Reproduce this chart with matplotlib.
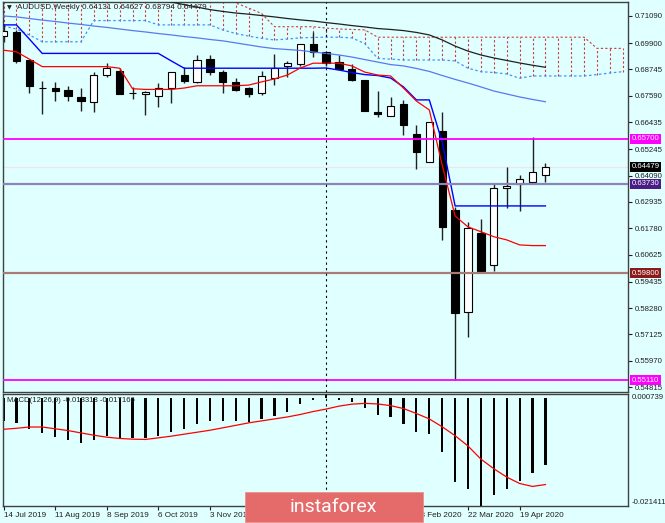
import numpy as np
import matplotlib
matplotlib.use("Agg")
import matplotlib.pyplot as plt
import matplotlib.transforms as mtrans
from matplotlib.patches import Rectangle

nan = np.nan

# weekly AUDUSD candles, 14 Jul 2019 .. 3 May 2020
opens = [0.7021, 0.7041, 0.6916, 0.6795, 0.6792, 0.6784, 0.6753, 0.6730, 0.6850, 0.6869,
         0.6773, 0.6767, 0.6759, 0.6792, 0.6850, 0.6821, 0.6919, 0.6865, 0.6821, 0.6795,
         0.6773, 0.6836, 0.6891, 0.6897, 0.6985, 0.6950, 0.6906, 0.6875, 0.6827, 0.6689,
         0.6672, 0.6723, 0.6591, 0.6467, 0.6605, 0.6258, 0.5809, 0.6159, 0.6017, 0.6353,
         0.6371, 0.6382, 0.64131]
highs = [0.7070, 0.7048, 0.6916, 0.6824, 0.6821, 0.6803, 0.6792, 0.6865, 0.6902, 0.6882,
         0.6799, 0.6780, 0.6816, 0.6865, 0.6887, 0.6938, 0.6938, 0.6872, 0.6836, 0.6799,
         0.6869, 0.6941, 0.6913, 0.6988, 0.7040, 0.6952, 0.6938, 0.6897, 0.6828, 0.6781,
         0.6755, 0.6741, 0.6631, 0.6645, 0.6689, 0.6273, 0.6207, 0.6217, 0.6372, 0.6448,
         0.6412, 0.6577, 0.64627]
lows = [0.6996, 0.6905, 0.6770, 0.6678, 0.6738, 0.6738, 0.6694, 0.6689, 0.6843, 0.6767,
        0.6745, 0.6675, 0.6711, 0.6726, 0.6814, 0.6814, 0.6850, 0.6770, 0.6780, 0.6755,
        0.6763, 0.6806, 0.6843, 0.6890, 0.6930, 0.6890, 0.6872, 0.6825, 0.6692, 0.6667,
        0.6670, 0.6587, 0.6438, 0.6467, 0.6127, 0.5513, 0.5702, 0.5980, 0.5992, 0.6266,
        0.6255, 0.6382, 0.63794]
closes = [0.7045, 0.6912, 0.6803, 0.6794, 0.6780, 0.6758, 0.6736, 0.6850, 0.6882, 0.6767,
          0.6772, 0.6777, 0.6795, 0.6862, 0.6824, 0.6916, 0.6865, 0.6821, 0.6784, 0.6766,
          0.6847, 0.6882, 0.6904, 0.6985, 0.6950, 0.6904, 0.6877, 0.6828, 0.6694, 0.6678,
          0.6716, 0.6631, 0.6514, 0.6643, 0.6185, 0.5805, 0.6178, 0.5991, 0.6353, 0.6365,
          0.6394, 0.6426, 0.64479]

tenkan = [0.6959, 0.6952, 0.6920, 0.6887, 0.6887, 0.6887, 0.6887, 0.6887, 0.6887, 0.6880,
          0.6790, 0.6787, 0.6787, 0.6787, 0.6793, 0.6803, 0.6803, 0.6803, 0.6803, 0.6806,
          0.6820, 0.6833, 0.6850, 0.6881, 0.6902, 0.6902, 0.6902, 0.6890, 0.6863, 0.6850,
          0.6846, 0.6793, 0.6736, 0.6697, 0.6455, 0.6232, 0.6184, 0.6163, 0.6141, 0.6127,
          0.6105, 0.6102, 0.6102]
kijun = [0.7070, 0.7070, 0.7008, 0.6945, 0.6945, 0.6945, 0.6945, 0.6945, 0.6945, 0.6945,
         0.6945, 0.6945, 0.6945, 0.6912, 0.6880, 0.6880, 0.6880, 0.6880, 0.6880, 0.6880,
         0.6880, 0.6880, 0.6880, 0.6880, 0.6880, 0.6881, 0.6872, 0.6861, 0.6852, 0.6848,
         0.6837, 0.6798, 0.6741, 0.6741, 0.6556, 0.6276, 0.6276, 0.6276, 0.6276, 0.6276,
         0.6276, 0.6276, 0.6276]
ma_blue = [0.7109, 0.7105, 0.7098, 0.7091, 0.7085, 0.7078, 0.7072, 0.7065, 0.7059, 0.7052,
           0.7045, 0.7039, 0.7032, 0.7026, 0.7019, 0.7013, 0.7006, 0.7000, 0.6991, 0.6982,
           0.6973, 0.6966, 0.6962, 0.6958, 0.6951, 0.6945, 0.6938, 0.6929, 0.6918, 0.6907,
           0.6896, 0.6890, 0.6879, 0.6866, 0.6848, 0.6831, 0.6815, 0.6798, 0.6780, 0.6767,
           0.6754, 0.6743, 0.6733]
ma_black = [nan] * 12 + [0.7179, 0.7170, 0.7159, 0.7148, 0.7137, 0.7129, 0.7122, 0.7117,
                         0.7111, 0.7105, 0.7098, 0.7092, 0.7087, 0.7080, 0.7074, 0.7067,
                         0.7061, 0.7054, 0.7050, 0.7045, 0.7037, 0.7026, 0.7004, 0.6977,
                         0.6955, 0.6938, 0.6925, 0.6914, 0.6903, 0.6893, 0.6884]

# cloud, runs a few weeks past the last candle
span_a = [0.7065, 0.7052, 0.7026, 0.6996, 0.6996, 0.6996, 0.6996, 0.7089, 0.7089, 0.7089,
          0.7089, 0.7089, 0.7070, 0.7070, 0.7070, 0.7070, 0.7070, 0.7048, 0.7032, 0.7021,
          0.7011, 0.7004, 0.7008, 0.7013, 0.7015, 0.7016, 0.7016, 0.7013, 0.6988, 0.6923,
          0.6920, 0.6916, 0.6916, 0.6916, 0.6916, 0.6912, 0.6880, 0.6865, 0.6861, 0.6855,
          0.6836, 0.6846, 0.6846, 0.6846, 0.6846, 0.6846, 0.6852, 0.6859, 0.6865]
span_b = [0.7200] * 18 + [0.7166, 0.7144, 0.7120, 0.7062, 0.7062, 0.7062, 0.7062,
                          0.7056, 0.7052, 0.7050, 0.7048] + [0.7016] * 17 + [0.6967] * 3

macd_hist = [-0.00454, -0.00501, -0.00610, -0.00696, -0.00774, -0.00838, -0.00903, -0.00844,
             -0.00760, -0.00793, -0.00805, -0.00793, -0.00760, -0.00676, -0.00618, -0.00520,
             -0.00454, -0.00454, -0.00454, -0.00481, -0.00415, -0.00357, -0.00273, -0.00131,
             -0.00045, 0.00074, -0.00045, -0.00078, -0.00209, -0.00337, -0.00390, -0.00513,
             -0.00682, -0.00715, -0.01072, -0.01671, -0.01813, -0.02141, -0.01916, -0.01799,
             -0.01651, -0.01495, -0.01331]
macd_signal = [-0.00624, -0.00604, -0.00579, -0.00579, -0.00614, -0.00649, -0.00696, -0.00741,
               -0.00780, -0.00805, -0.00819, -0.00825, -0.00793, -0.00760, -0.00721, -0.00682,
               -0.00643, -0.00595, -0.00546, -0.00497, -0.00458, -0.00419, -0.00380, -0.00331,
               -0.00273, -0.00224, -0.00166, -0.00127, -0.00111, -0.00123, -0.00156, -0.00214,
               -0.00312, -0.00419, -0.00575, -0.00750, -0.00955, -0.01214, -0.01404, -0.01569,
               -0.01696, -0.01754, -0.01717]

date_labels = ["14 Jul 2019", "11 Aug 2019", "8 Sep 2019", "6 Oct 2019", "3 Nov 2019",
               "1 Dec 2019", "29 Dec 2019", "26 Jan 2020", "23 Feb 2020", "22 Mar 2020",
               "19 Apr 2020"]
price_ticks = [0.71090, 0.69900, 0.68745, 0.67590, 0.66435, 0.65245, 0.64090, 0.62935,
               0.61780, 0.60625, 0.59435, 0.58280, 0.57125, 0.55970, 0.54815]
levels = [0.65700, 0.63730, 0.59800, 0.55110]
level_line_colors = ["#ff00ff", "#8c84b8", "#a87c74", "#ff00ff"]
level_box_colors = ["#ff00ff", "#4a1c86", "#8b1a1a", "#ff00ff"]
bid = 0.64479

bg = "#e0ffff"
txt = "#202020"
fs = 5.6
plt.rcParams['font.family'] = ['Liberation Sans', 'DejaVu Sans']

fig = plt.figure(figsize=(6.65, 5.23), dpi=100, facecolor=bg)
ax = fig.add_axes([3/665, 131/523, 625/665, 390/523], facecolor=bg)
ax2 = fig.add_axes([3/665, 17/523, 625/665, 112/523], facecolor=bg, sharex=ax)

n = len(opens)
x = np.arange(n)
xc = np.arange(len(span_a))

# cloud hatching
ax.vlines(xc, span_a, span_b, colors="#cc3c3c", linestyles=(0, (2, 2)), lw=0.8, zorder=1)
ax.plot(xc, span_b, color="#cc3c3c", ls=(0, (2, 2)), lw=0.8, zorder=1)
ax.plot(xc, span_a, color="#3c96ff", ls=(0, (2, 2)), lw=0.9, zorder=1)

# candles
o = np.array(opens); c = np.array(closes)
up = c >= o
ax.vlines(x, lows, highs, color="#202020", lw=1, zorder=2)
body_bot = np.minimum(o, c)
body_h = np.maximum(np.abs(c - o), 0.00008)
ax.bar(x[up], body_h[up], bottom=body_bot[up], width=0.56, color="white",
       edgecolor="black", lw=0.8, zorder=3)
ax.bar(x[~up], body_h[~up], bottom=body_bot[~up], width=0.56, color="black",
       edgecolor="black", lw=0.8, zorder=3)

# indicator lines
ax.plot(x, ma_black, color="#202020", lw=0.9, zorder=4)
ax.plot(x, ma_blue, color="#5a78f0", lw=0.9, zorder=4)
ax.plot(x, kijun, color="#0000ff", lw=1.0, zorder=4)
ax.plot(x, tenkan, color="#ff0000", lw=0.9, zorder=4)

# levels
ax.axhline(bid, color="#f0e4e8", lw=0.9, zorder=1)
for lv, lc in zip(levels, level_line_colors):
    ax.axhline(lv, color=lc, lw=1.6 if lc != "#ff00ff" else 1.3, zorder=5)

ax.axvline(25, color="black", ls=(0, (2, 3)), lw=0.8, zorder=5)
ax2.axvline(25, color="black", ls=(0, (2, 3)), lw=0.8, zorder=5)

ax.set_xlim(-0.04, 48.4)
ax.set_ylim(0.54599, 0.71704)
ax.yaxis.tick_right()
ax.set_yticks(price_ticks)
ax.set_yticklabels(["%.5f" % t for t in price_ticks])
ax.tick_params(axis='y', labelsize=fs, length=3, pad=2, colors=txt, width=0.8)
ax.tick_params(axis='x', bottom=False, labelbottom=False)

tr = mtrans.blended_transform_factory(ax.transAxes, ax.transData)
for lv, bc in zip(levels + [bid], level_box_colors + ["black"]):
    ax.text(1.006, lv, "%.5f" % lv, transform=tr, fontsize=fs, color="white", va="center",
            ha="left", bbox=dict(boxstyle="square,pad=0.2", fc=bc, ec="none"), zorder=6,
            clip_on=False)

ax.text(0.007, 0.992, "\u25bc", transform=ax.transAxes, fontsize=4.5, va="top", color=txt,
        family="DejaVu Sans")
ax.text(0.022, 0.994, "AUDUSD,Weekly 0.64131 0.64627 0.63794 0.64479", transform=ax.transAxes,
        fontsize=fs + 0.3, va="top", color=txt)

# MACD panel
ax2.bar(x, macd_hist, width=0.17, color="black", zorder=2)
ax2.plot(x, macd_signal, color="#ff0000", lw=0.9, zorder=3)
ax2.set_ylim(-0.021411, 0.000739)
ax2.set_yticks([])
ax2.text(1.006, 1.0, "0.000739", transform=ax2.transAxes, fontsize=fs, va="top", color=txt)
ax2.text(1.006, 0.0, "-0.021411", transform=ax2.transAxes, fontsize=fs, va="bottom", color=txt)
ax2.text(0.007, 0.975, "MACD(12,26,9) -0.013313 -0.017166", transform=ax2.transAxes,
         fontsize=fs, va="top", color=txt)

ax2.set_xticks(np.arange(0, 44, 4))
ax2.set_xticklabels(date_labels)
for lbl in ax2.get_xticklabels():
    lbl.set_horizontalalignment("left")
ax2.tick_params(axis='x', labelsize=fs + 0.3, length=3, pad=1, colors=txt, width=0.8)

for a in (ax, ax2):
    for s in a.spines.values():
        s.set_color("#404040")
        s.set_linewidth(1)

# watermark
fig.add_artist(Rectangle((245/665, 1.5/523), 177.5/665, 29.5/523, transform=fig.transFigure,
                         fc="#e56b6b", ec="#ee9090", lw=0.6, zorder=10))
fig.text(333/665, 16/523, "instaforex", fontsize=14, color="white", family="Roboto",
         ha="center", va="center", zorder=11)

fig.savefig("out.png", dpi=100, facecolor=bg)
